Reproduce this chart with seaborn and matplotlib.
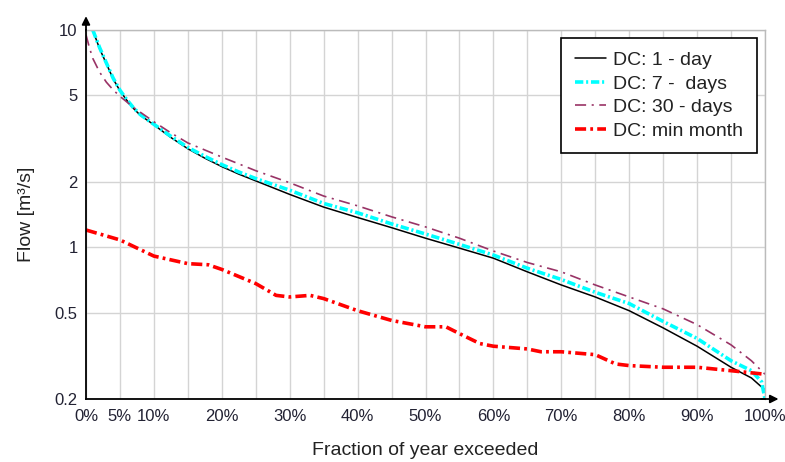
import matplotlib
matplotlib.use("Agg")
import matplotlib.pyplot as plt
import seaborn as sns
import pandas as pd

# ---- data ----
x_1day = [1, 2, 3, 4, 5, 6, 7, 8, 9, 10, 12.5, 15, 17.5, 20, 22.5, 25, 30, 35, 40, 45, 50, 55, 60, 65, 70, 75, 80, 85, 90, 95, 98, 100]
y_1day = [10, 8.2, 7.0, 5.95, 5.25, 4.75, 4.35, 4.05, 3.85, 3.66, 3.2, 2.84, 2.57, 2.35, 2.17, 2.02, 1.75, 1.53, 1.37, 1.23, 1.1, 0.99, 0.89, 0.77, 0.67, 0.59, 0.51, 0.425, 0.35, 0.28, 0.25, 0.22]

x_7day = [1, 2, 3, 4, 5, 6, 7, 8, 9, 10, 12.5, 15, 17.5, 20, 22.5, 25, 30, 35, 40, 45, 50, 55, 60, 65, 70, 75, 80, 85, 90, 95, 98, 99.5, 100]
y_7day = [10, 8.3, 7.05, 6.0, 5.28, 4.78, 4.38, 4.08, 3.87, 3.68, 3.24, 2.88, 2.62, 2.4, 2.22, 2.07, 1.83, 1.59, 1.44, 1.28, 1.15, 1.03, 0.92, 0.8, 0.71, 0.62, 0.55, 0.455, 0.38, 0.3, 0.27, 0.24, 0.2]

x_30day = [0, 0.5, 1, 2, 3, 4, 5, 7, 10, 12.5, 15, 20, 25, 30, 35, 40, 45, 50, 55, 60, 65, 70, 75, 80, 85, 90, 95, 98, 100]
y_30day = [9.5, 8.3, 7.4, 6.4, 5.75, 5.3, 4.95, 4.4, 3.78, 3.36, 3.02, 2.6, 2.25, 1.98, 1.72, 1.55, 1.38, 1.24, 1.1, 0.96, 0.85, 0.77, 0.67, 0.59, 0.52, 0.44, 0.355, 0.3, 0.26]

x_min = [0, 5, 10, 15, 18, 20, 25, 28, 30, 33, 35, 40, 45, 50, 53, 55, 58, 60, 65, 67, 70, 75, 78, 80, 85, 90, 95, 100]
y_min = [1.2, 1.08, 0.91, 0.84, 0.83, 0.79, 0.68, 0.6, 0.59, 0.6, 0.58, 0.51, 0.46, 0.43, 0.43, 0.4, 0.36, 0.35, 0.34, 0.33, 0.33, 0.32, 0.29, 0.285, 0.28, 0.28, 0.27, 0.26]

series_names = ["DC: 1 - day", "DC: 7 -  days", "DC: 30 - days", "DC: min month"]
y_ticks = [0.2, 0.5, 1, 2, 5, 10]
y_ticklabels = ["0.2", "0.5", "1", "2", "5", "10"]
x_ticks = [0, 5, 10, 20, 30, 40, 50, 60, 70, 80, 90, 100]
x_ticklabels = ["0%", "5%", "10%", "20%", "30%", "40%", "50%", "60%", "70%", "80%", "90%", "100%"]

# ---- styling ----
sns.set_style("white")
plt.rcParams["font.family"] = ["Liberation Sans", "DejaVu Sans"]
plt.rcParams["lines.scale_dashes"] = False

fig = plt.figure(figsize=(7.85, 4.62), dpi=100)
ax = fig.add_axes([86/785, 1-399/462, (765-86)/785, (399-30)/462])

styles = [
    dict(color="black", lw=1.1, dashes=None),
    dict(color="#00ffff", lw=2.6, dashes=(6, 2, 1.5, 2)),
    dict(color="#993366", lw=1.2, dashes=(8, 4, 1.5, 4)),
    dict(color="#ff0000", lw=2.6, dashes=(8, 3, 2, 3)),
]
data = [(x_1day, y_1day), (x_7day, y_7day), (x_30day, y_30day), (x_min, y_min)]

for (xs, ys), name, st in zip(data, series_names, styles):
    df = pd.DataFrame({"x": xs, "y": ys})
    sns.lineplot(data=df, x="x", y="y", ax=ax, color=st["color"], lw=st["lw"],
                 label=name, sort=False, estimator=None)
    line = ax.lines[-1]
    if st["dashes"] is not None:
        line.set_dashes(st["dashes"])

ax.set_yscale("log")
ax.set_xlim(0, 100)
ax.set_ylim(0.2, 10)
ax.set_yticks(y_ticks)
ax.set_yticklabels(y_ticklabels)
ax.minorticks_off()
ax.set_xticks([v for v in range(0, 101, 5)], minor=True)
ax.set_xticks(x_ticks)
ax.set_xticklabels(x_ticklabels)

ax.grid(True, which="both", axis="x", color="#d4d4d4", lw=1)
ax.grid(True, which="major", axis="y", color="#d4d4d4", lw=1)
ax.set_axisbelow(True)

for s in ["top", "right"]:
    ax.spines[s].set_color("#bbbbbb")
    ax.spines[s].set_linewidth(1)
for s in ["left", "bottom"]:
    ax.spines[s].set_color("black")
    ax.spines[s].set_linewidth(1.3)

ax.tick_params(axis="x", which="both", direction="out", length=4, width=1, color="black",
               labelsize=12, labelcolor="#222233", pad=3)
ax.tick_params(axis="y", which="major", direction="out", length=4, width=1, color="black",
               labelsize=12, labelcolor="#222233", pad=2)

ax.set_xlabel("Fraction of year exceeded", fontsize=14, color="#222222", labelpad=13)
ax.set_ylabel("Flow [m³/s]", fontsize=14, color="#222222", labelpad=14)

# axis arrows
ax.annotate("", xy=(0, 1.045), xytext=(0, 0.99), xycoords="axes fraction",
            arrowprops=dict(arrowstyle="-|>", color="black", lw=1.3, mutation_scale=12),
            annotation_clip=False)
ax.annotate("", xy=(1.024, 0), xytext=(0.99, 0), xycoords="axes fraction",
            arrowprops=dict(arrowstyle="-|>", color="black", lw=1.3, mutation_scale=12),
            annotation_clip=False)

leg = ax.legend(loc="upper right", bbox_to_anchor=((757-86)/679, (399-38)/369),
                borderaxespad=0, fontsize=14,
                frameon=True, fancybox=False, edgecolor="black", framealpha=1,
                handlelength=1.6, handletextpad=0.4, borderpad=0.7, labelspacing=0.3)
leg.get_frame().set_linewidth(1.2)
for t in leg.get_texts():
    t.set_color("#222222")

fig.savefig("out.png", dpi=100)
